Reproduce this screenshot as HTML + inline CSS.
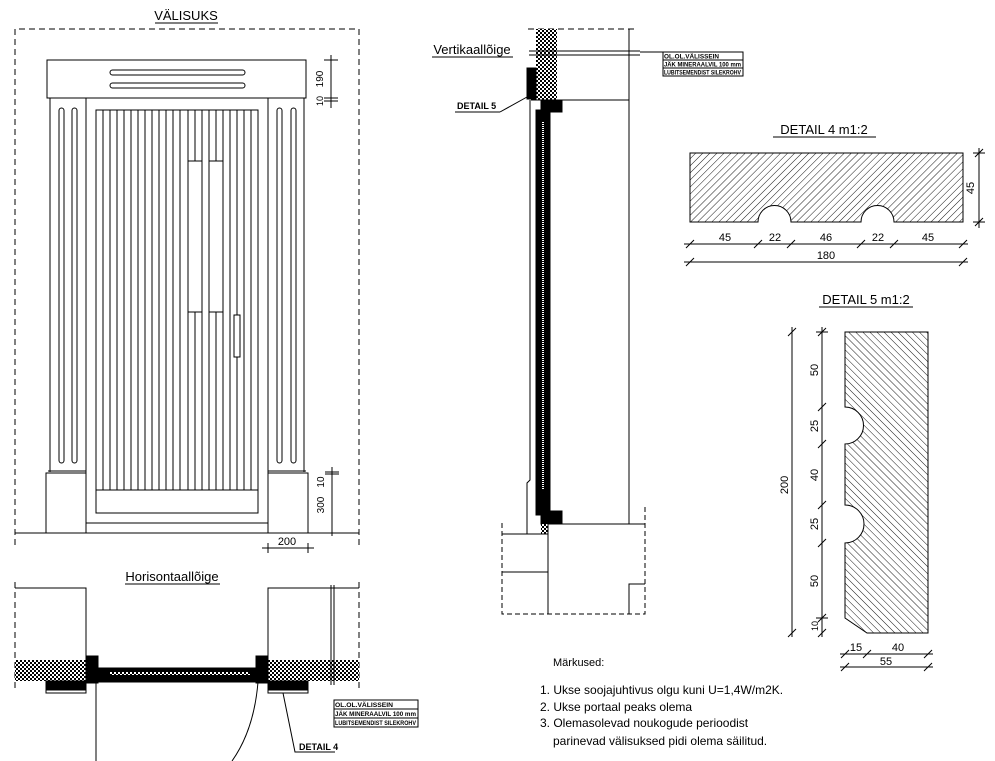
<!DOCTYPE html>
<html><head><meta charset="utf-8"><style>
html,body{margin:0;padding:0;background:#fff;}
svg{display:block;}
text{font-family:"Liberation Sans",sans-serif;fill:#000;}
</style></head><body>
<svg width="995" height="761" viewBox="0 0 995 761" xmlns="http://www.w3.org/2000/svg">
<defs>
<pattern id="chk" width="4" height="4" patternUnits="userSpaceOnUse">
<rect width="4" height="4" fill="#fff"/><rect width="2" height="2" fill="#000"/><rect x="2" y="2" width="2" height="2" fill="#000"/>
</pattern>
<pattern id="h1" width="5" height="5" patternUnits="userSpaceOnUse" patternTransform="rotate(45)">
<rect width="5" height="5" fill="#fff"/><line x1="0" y1="0" x2="0" y2="5" stroke="#000" stroke-width="0.9"/>
</pattern>
<pattern id="h2" width="5" height="5" patternUnits="userSpaceOnUse" patternTransform="rotate(-45)">
<rect width="5" height="5" fill="#fff"/><line x1="0" y1="0" x2="0" y2="5" stroke="#000" stroke-width="0.9"/>
</pattern>
</defs>
<g stroke="#000" stroke-width="1" fill="none">
<polyline points="15,545 15,29 359,29 359,545" stroke-dasharray="6,4"/>
<line x1="15" y1="533" x2="359" y2="533"/>
<rect x="47" y="60" width="259" height="38"/>
<rect x="110" y="70" width="135" height="5" rx="2.5"/>
<rect x="110" y="83" width="135" height="5" rx="2.5"/>
<line x1="50" y1="98" x2="50" y2="472"/><line x1="86" y1="98" x2="86" y2="533"/>
<line x1="268" y1="98" x2="268" y2="533"/><line x1="304" y1="98" x2="304" y2="472"/>
<rect x="59" y="108" width="5" height="355" rx="2.5"/><rect x="72" y="108" width="5" height="355" rx="2.5"/>
<rect x="277" y="108" width="5" height="355" rx="2.5"/><rect x="291" y="108" width="5" height="355" rx="2.5"/>
<rect x="46" y="473" width="40" height="60"/><rect x="268" y="473" width="40" height="60"/>
<line x1="48" y1="471" x2="86" y2="471"/><line x1="268" y1="471" x2="306" y2="471"/>
<line x1="86" y1="523" x2="268" y2="523"/>
<rect x="96" y="110" width="162" height="403"/>
<line x1="96" y1="490" x2="258" y2="490"/>
<g>
<line x1="103" y1="110" x2="103" y2="490"/><line x1="110" y1="110" x2="110" y2="490"/><line x1="117" y1="110" x2="117" y2="490"/><line x1="124" y1="110" x2="124" y2="490"/><line x1="131" y1="110" x2="131" y2="490"/><line x1="138" y1="110" x2="138" y2="490"/><line x1="145" y1="110" x2="145" y2="490"/><line x1="152" y1="110" x2="152" y2="490"/><line x1="159" y1="110" x2="159" y2="490"/><line x1="166" y1="110" x2="166" y2="490"/><line x1="173" y1="110" x2="173" y2="490"/><line x1="180" y1="110" x2="180" y2="490"/><line x1="188" y1="110" x2="188" y2="490"/><line x1="195" y1="110" x2="195" y2="490"/><line x1="202" y1="110" x2="202" y2="490"/><line x1="209" y1="110" x2="209" y2="490"/><line x1="216" y1="110" x2="216" y2="490"/><line x1="223" y1="110" x2="223" y2="490"/><line x1="230" y1="110" x2="230" y2="490"/><line x1="237" y1="110" x2="237" y2="490"/><line x1="244" y1="110" x2="244" y2="490"/><line x1="251" y1="110" x2="251" y2="490"/>
</g>
<rect x="188" y="161" width="14" height="151" fill="#fff"/>
<rect x="209" y="161" width="14" height="151" fill="#fff"/>
<rect x="234" y="315" width="6" height="42" fill="#fff"/>
<line x1="324" y1="60" x2="338" y2="60"/><line x1="331" y1="55" x2="331" y2="108"/>
<line x1="324" y1="98" x2="338" y2="98"/><line x1="324" y1="101" x2="338" y2="101"/>
<line x1="332" y1="467" x2="332" y2="536"/><line x1="325" y1="472" x2="339" y2="472"/><line x1="325" y1="474" x2="339" y2="474"/><line x1="325" y1="533" x2="339" y2="533"/>
<line x1="262" y1="548" x2="314" y2="548"/><line x1="268" y1="543" x2="268" y2="553"/><line x1="308" y1="543" x2="308" y2="553"/>
<line x1="15" y1="582" x2="15" y2="692" stroke-dasharray="6,4"/>
<line x1="359" y1="582" x2="359" y2="692" stroke-dasharray="6,4"/>
<polyline points="15,588 86,588 86,660"/>
<polyline points="268,660 268,588 359,588"/>
<rect x="15" y="660" width="71" height="21" fill="url(#chk)" stroke="none"/>
<rect x="268" y="660" width="91" height="21" fill="url(#chk)" stroke="none"/>
<rect x="46" y="681" width="40" height="12"/>
<rect x="47" y="681" width="39" height="9" fill="#000"/>
<rect x="268" y="681" width="40" height="12"/>
<rect x="268" y="681" width="39" height="9" fill="#000"/>
<rect x="86" y="656" width="12" height="27" fill="#000"/>
<rect x="256" y="656" width="12" height="27" fill="#000"/>
<rect x="96" y="668" width="162" height="14" fill="#000"/>
<rect x="110" y="672" width="140" height="3" fill="url(#chk)" stroke="none"/>
<line x1="331" y1="585" x2="331" y2="685"/><line x1="334" y1="585" x2="334" y2="685"/>
<rect x="334" y="700" width="84" height="27" fill="#fff"/>
<line x1="334" y1="709" x2="418" y2="709"/><line x1="334" y1="718" x2="418" y2="718"/>
<line x1="96" y1="682" x2="96" y2="761"/>
<path d="M258,682 Q254,730 232,761"/>
<polyline points="283,693 295,752 335,752"/>
<line x1="528" y1="29" x2="636" y2="29" stroke-dasharray="6,4"/>
<rect x="536" y="29" width="21" height="71" fill="url(#chk)" stroke="none"/>
<line x1="629" y1="29" x2="629" y2="524"/>
<line x1="529" y1="51" x2="640" y2="51"/><line x1="529" y1="55" x2="640" y2="55"/>
<line x1="640" y1="52" x2="663" y2="52"/>
<rect x="663" y="52" width="80" height="24" fill="#fff"/>
<line x1="663" y1="60" x2="743" y2="60"/><line x1="663" y1="68" x2="743" y2="68"/>
<rect x="527" y="68" width="9" height="31" fill="#000"/>
<line x1="531" y1="100" x2="629" y2="100"/>
<rect x="541" y="100" width="21" height="12" fill="#000"/>
<rect x="536" y="110" width="14" height="405" fill="#000"/>
<line x1="543" y1="122" x2="543" y2="490" stroke="#fff" stroke-width="2" stroke-dasharray="1,1"/>
<polyline points="530,100 530,480 527,483 527,534"/>
<rect x="541" y="511" width="21" height="13" fill="#000"/>
<line x1="548" y1="524" x2="645" y2="524"/>
<rect x="541" y="524" width="7" height="10" fill="url(#chk)" stroke="none"/>
<line x1="502" y1="534" x2="548" y2="534"/>
<line x1="548" y1="524" x2="548" y2="614"/>
<line x1="502" y1="572" x2="548" y2="572"/>
<polyline points="629,614 629,584 645,584"/>
<polyline points="502,523 502,614 645,614 645,506" stroke-dasharray="5,3"/>
<polyline points="500,112 455,112"/>
<line x1="500" y1="112" x2="527" y2="97"/>
<line x1="432" y1="57" x2="513" y2="57"/>
<line x1="773" y1="137" x2="876" y2="137"/>
<path d="M690,153 H963 V222 H894 A16,16 0 0 0 861,222 H791 A16,16 0 0 0 758,222 H690 Z" fill="url(#h1)"/>
<line x1="979" y1="148" x2="979" y2="228"/><line x1="973" y1="153" x2="985" y2="153"/><line x1="973" y1="222" x2="985" y2="222"/>
<line x1="684" y1="244" x2="968" y2="244"/>
<line x1="684" y1="262" x2="968" y2="262"/>
<g>
<line x1="686" y1="248" x2="694" y2="240"/><line x1="754" y1="248" x2="762" y2="240"/><line x1="787" y1="248" x2="795" y2="240"/><line x1="857" y1="248" x2="865" y2="240"/><line x1="890" y1="248" x2="898" y2="240"/><line x1="959" y1="248" x2="967" y2="240"/>
<line x1="686" y1="266" x2="694" y2="258"/><line x1="959" y1="266" x2="967" y2="258"/>
<line x1="975" y1="157" x2="983" y2="149"/><line x1="975" y1="226" x2="983" y2="218"/>
</g>
<line x1="819" y1="307" x2="913" y2="307"/>
<path d="M845,332 H928 V633 H867 L845,618 V543 A18,18 0 0 0 845,505 V444 A18,18 0 0 0 845,407 Z" fill="url(#h2)"/>
<line x1="792" y1="327" x2="792" y2="637"/><line x1="822" y1="327" x2="822" y2="637"/>
<g>
<line x1="788" y1="336" x2="796" y2="328"/><line x1="788" y1="637" x2="796" y2="629"/>
<line x1="818" y1="336" x2="826" y2="328"/><line x1="818" y1="411" x2="826" y2="403"/><line x1="818" y1="448" x2="826" y2="440"/><line x1="818" y1="509" x2="826" y2="501"/><line x1="818" y1="547" x2="826" y2="539"/><line x1="818" y1="622" x2="826" y2="614"/><line x1="818" y1="637" x2="826" y2="629"/>
<line x1="816" y1="332" x2="828" y2="332"/><line x1="816" y1="618" x2="828" y2="618"/>
</g>
<line x1="840" y1="654" x2="933" y2="654"/><line x1="840" y1="667" x2="933" y2="667"/>
<line x1="841" y1="658" x2="849" y2="650"/><line x1="863" y1="658" x2="871" y2="650"/><line x1="924" y1="658" x2="932" y2="650"/>
<line x1="841" y1="671" x2="849" y2="663"/><line x1="924" y1="671" x2="932" y2="663"/>
</g>
<g font-size="12">
<text x="186" y="20" text-anchor="middle" font-size="13">VÄLISUKS</text>
<line x1="155" y1="23" x2="218" y2="23" stroke="#000"/>
<text x="172" y="581" text-anchor="middle" font-size="13">Horisontaallõige</text>
<line x1="125" y1="584" x2="220" y2="584" stroke="#000"/>
<text x="472" y="54" text-anchor="middle" font-size="13">Vertikaallõige</text>
<text x="824" y="134" text-anchor="middle" font-size="13">DETAIL  4  m1:2</text>
<text x="866" y="304" text-anchor="middle" font-size="13">DETAIL  5  m1:2</text>
<text x="287" y="545" text-anchor="middle" font-size="11">200</text>
<text transform="translate(323,79) rotate(-90)" text-anchor="middle" font-size="10">190</text>
<text transform="translate(323,101) rotate(-90)" text-anchor="middle" font-size="9">10</text>
<text transform="translate(324,482) rotate(-90)" text-anchor="middle" font-size="10">10</text>
<text transform="translate(324,505) rotate(-90)" text-anchor="middle" font-size="10">300</text>
<text transform="translate(974,188) rotate(-90)" text-anchor="middle" font-size="11">45</text>
<text x="725" y="241" text-anchor="middle" font-size="11">45</text>
<text x="775" y="241" text-anchor="middle" font-size="11">22</text>
<text x="826" y="241" text-anchor="middle" font-size="11">46</text>
<text x="878" y="241" text-anchor="middle" font-size="11">22</text>
<text x="928" y="241" text-anchor="middle" font-size="11">45</text>
<text x="826" y="259" text-anchor="middle" font-size="11">180</text>
<text transform="translate(818,370) rotate(-90)" text-anchor="middle" font-size="11">50</text>
<text transform="translate(818,426) rotate(-90)" text-anchor="middle" font-size="11">25</text>
<text transform="translate(818,475) rotate(-90)" text-anchor="middle" font-size="11">40</text>
<text transform="translate(818,524) rotate(-90)" text-anchor="middle" font-size="11">25</text>
<text transform="translate(818,581) rotate(-90)" text-anchor="middle" font-size="11">50</text>
<text transform="translate(818,626) rotate(-90)" text-anchor="middle" font-size="9">10</text>
<text transform="translate(788,485) rotate(-90)" text-anchor="middle" font-size="11">200</text>
<text x="856" y="651" text-anchor="middle" font-size="11">15</text>
<text x="898" y="651" text-anchor="middle" font-size="11">40</text>
<text x="886" y="665" text-anchor="middle" font-size="11">55</text>
<text x="457" y="109" font-size="9" font-weight="bold">DETAIL 5</text>
<text x="299" y="750" font-size="9" font-weight="bold">DETAIL 4</text>
<g font-size="6.5" font-weight="bold">
<text x="664" y="58.5" textLength="55" lengthAdjust="spacingAndGlyphs">OL.OL.VÄLISSEIN</text>
<text x="664" y="66.5" textLength="77" lengthAdjust="spacingAndGlyphs">JÄK MINERAALVIL 100 mm</text>
<text x="664" y="74.5" textLength="77" lengthAdjust="spacingAndGlyphs">LUBITSEMENDIST SILEKROHV</text>
<text x="335" y="707" textLength="58" lengthAdjust="spacingAndGlyphs">OL.OL.VÄLISSEIN</text>
<text x="335" y="716" textLength="81" lengthAdjust="spacingAndGlyphs">JÄK MINERAALVIL 100 mm</text>
<text x="335" y="725" textLength="81" lengthAdjust="spacingAndGlyphs">LUBITSEMENDIST SILEKROHV</text>
</g>
<text x="553" y="666" font-size="11">Märkused:</text>
<text x="540" y="694" font-size="12">1. Ukse soojajuhtivus olgu kuni U=1,4W/m2K.</text>
<text x="540" y="711" font-size="12">2. Ukse portaal peaks olema</text>
<text x="540" y="727" font-size="12">3. Olemasolevad noukogude perioodist</text>
<text x="553" y="745" font-size="12">parinevad välisuksed pidi olema säilitud.</text>
</g>
</svg>
</body></html>
